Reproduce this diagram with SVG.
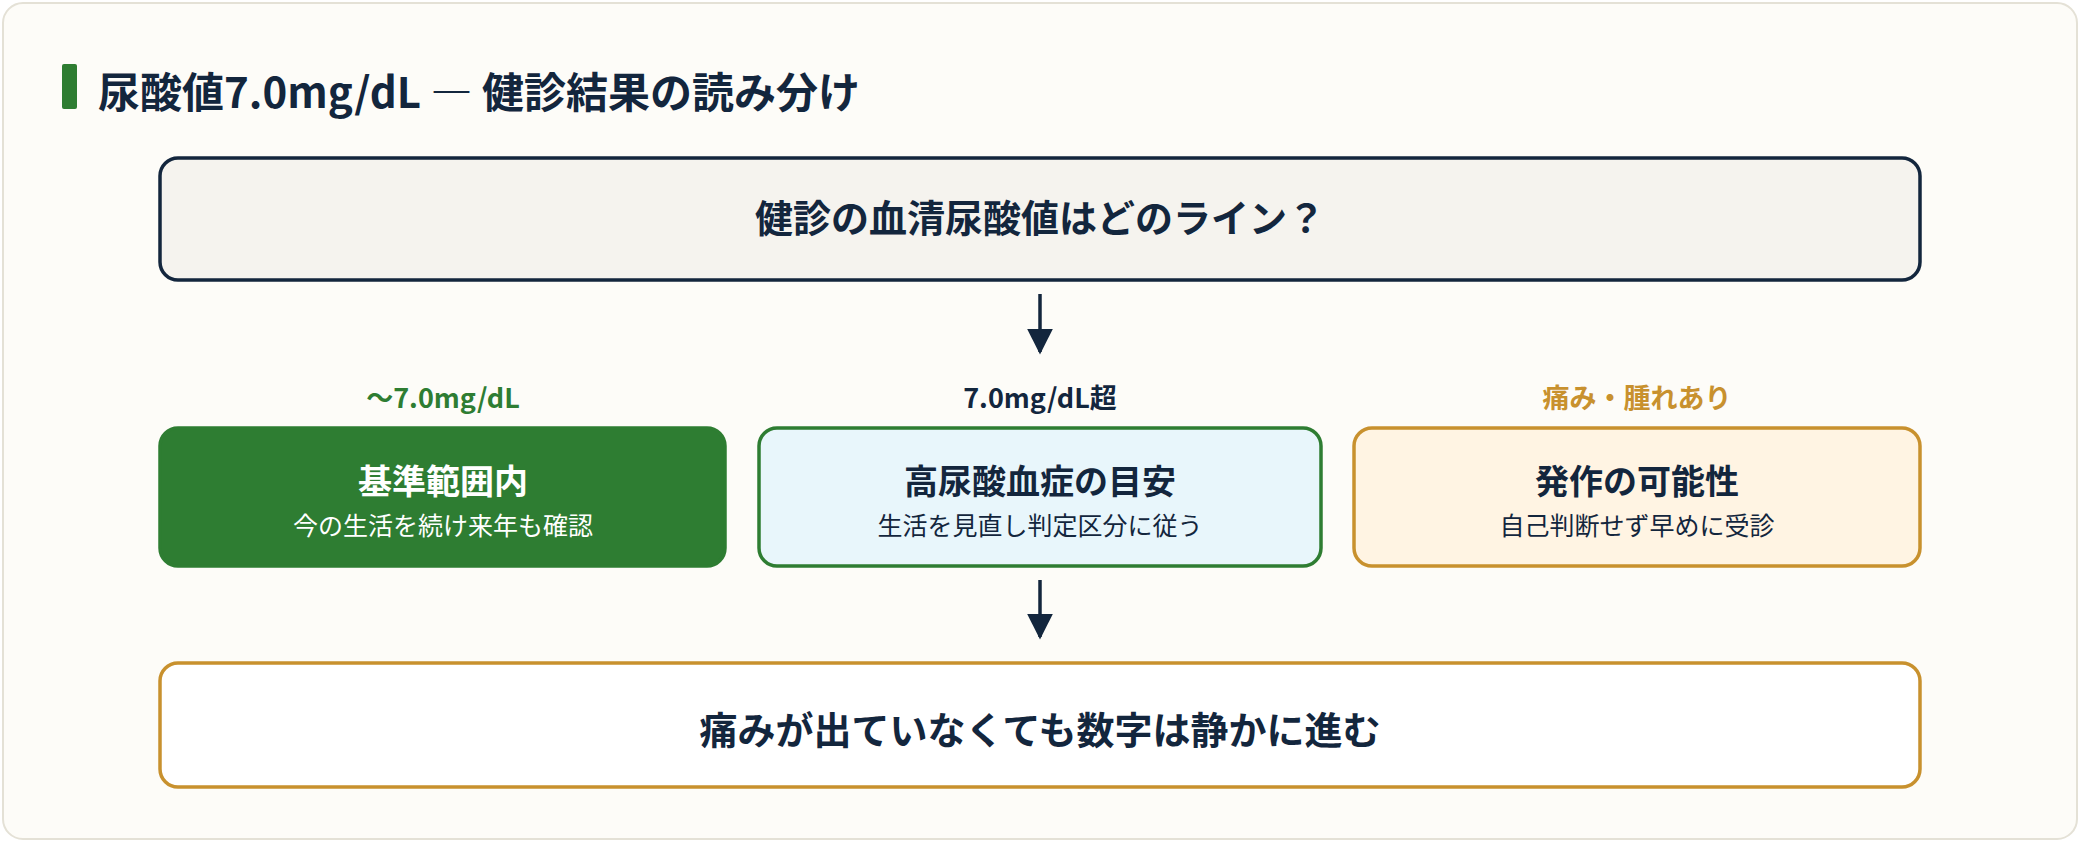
<svg xmlns="http://www.w3.org/2000/svg" width="2080" height="842" viewBox="0 0 2080 842">
<style>
text{font-family:"Noto Sans CJK JP","Noto Sans",sans-serif;font-weight:700;text-anchor:middle}
.big{font-size:38px;fill:#13263d}
.lbl{font-size:27px}
.t{font-size:34px}
.s{font-size:25px;font-weight:400}
.box{stroke-width:3.5}
</style>
<defs><marker id="ah" viewBox="0 0 10 10" refX="9" refY="5" markerWidth="26" markerHeight="26" orient="auto" markerUnits="userSpaceOnUse"><path d="M0,0L10,5L0,10z" fill="#13263d"/></marker></defs>
<rect x="3" y="3" width="2074" height="836" rx="20" fill="#fdfcf8" stroke="#e4e1d6" stroke-width="2"/>
<g id="title"><rect x="62" y="64" width="15" height="45" rx="2" fill="#2e7d32"/>
<text x="98" y="108" style="font-size:42px;text-anchor:start;fill:#13263d">尿酸値7.0mg/dL ― 健診結果の読み分け</text></g>
<g id="q"><rect class="box" x="160" y="158" width="1760" height="122" rx="18" fill="#f5f3ee" stroke="#13263d"/><text class="big" x="1040" y="232">健診の血清尿酸値はどのライン？</text></g>
<g id="lbl1"><text class="lbl" x="443" y="408" fill="#2e7d32">～7.0mg/dL</text></g>
<g id="lbl2"><text class="lbl" x="1040" y="408" fill="#13263d">7.0mg/dL超</text></g>
<g id="lbl3"><text class="lbl" x="1637" y="408" fill="#c8912e">痛み・腫れあり</text></g>
<g id="n1"><rect class="box" x="160" y="428" width="565" height="138" rx="18" fill="#2e7d32" stroke="#2e7d32"/><text class="t" x="443" y="494" fill="#fff">基準範囲内</text><text class="s" x="443" y="535" fill="#fff">今の生活を続け来年も確認</text></g>
<g id="n2"><rect class="box" x="759" y="428" width="562" height="138" rx="18" fill="#e8f6fb" stroke="#2e7d32"/><text class="t" x="1040" y="494" fill="#13263d">高尿酸血症の目安</text><text class="s" x="1040" y="535" fill="#13263d">生活を見直し判定区分に従う</text></g>
<g id="n3"><rect class="box" x="1354" y="428" width="566" height="138" rx="18" fill="#fff4e3" stroke="#c8912e"/><text class="t" x="1637" y="494" fill="#13263d">発作の可能性</text><text class="s" x="1637" y="535" fill="#13263d">自己判断せず早めに受診</text></g>
<g id="bottom"><rect class="box" x="160" y="663" width="1760" height="124" rx="18" fill="#fff" stroke="#c8912e"/><text class="big" x="1040" y="744">痛みが出ていなくても数字は静かに進む</text></g>
<g id="connectors" stroke="#13263d" stroke-width="3.5" fill="none">
<line x1="1040" y1="294" x2="1040" y2="352" marker-end="url(#ah)"/>
<line x1="1040" y1="580" x2="1040" y2="637" marker-end="url(#ah)"/>
</g>
</svg>
